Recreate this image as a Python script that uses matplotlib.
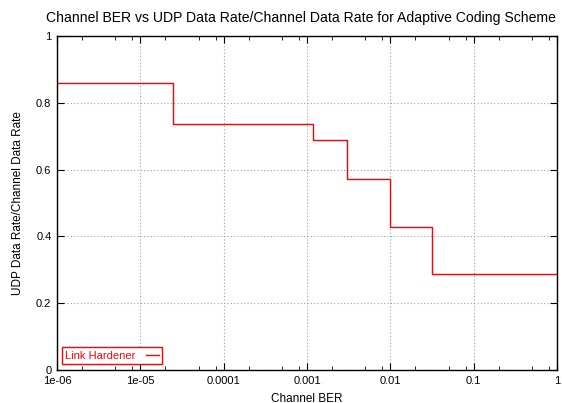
import matplotlib
matplotlib.use("Agg")
import matplotlib.pyplot as plt
from matplotlib.ticker import LogLocator, NullFormatter

plt.rcParams['font.family'] = ['Liberation Sans', 'DejaVu Sans']

ber_edges = [1e-6, 2.47e-5, 1.18e-3, 3.0e-3, 1e-2, 3.16e-2, 1.0]
rate_ratio = [0.86, 0.737, 0.689, 0.572, 0.428, 0.287, 0.287]
series_label = "Link Hardener"
x_ticks = [1e-6, 1e-5, 1e-4, 1e-3, 1e-2, 1e-1, 1]
x_tick_labels = ["1e-06", "1e-05", "0.0001", "0.001", "0.01", "0.1", "1"]
y_ticks = [0, 0.2, 0.4, 0.6, 0.8, 1]
y_tick_labels = ["0", "0.2", "0.4", "0.6", "0.8", "1"]

fig = plt.figure(figsize=(5.62, 4.03), dpi=100)
ax = fig.add_axes([57/562, 33/403, 500/562, 334/403])

ax.step(ber_edges, rate_ratio, where='post', color='#ff0000', lw=1.0, label=series_label)

ax.set_xscale('log')
ax.set_xlim(1e-6, 1)
ax.set_ylim(0, 1)
ax.set_xticks(x_ticks)
ax.set_xticklabels(x_tick_labels)
ax.xaxis.set_minor_locator(LogLocator(base=10, subs=(2, 5, 8), numticks=20))
ax.xaxis.set_minor_formatter(NullFormatter())
ax.set_yticks(y_ticks)
ax.set_yticklabels(y_tick_labels)

ax.tick_params(which='both', direction='in', top=True, right=True, labelsize=8, pad=4)
ax.tick_params(which='major', length=5, width=0.8)
ax.tick_params(which='minor', length=3, width=0.6)
for s in ax.spines.values():
    s.set_linewidth(1.0)

ax.grid(True, which='major', color='#a0a0a0', linestyle=(0, (1, 2)), linewidth=0.8)

fig.text(300.5/562, 1 - 18/403,
         "Channel BER vs UDP Data Rate/Channel Data Rate for Adaptive Coding Scheme",
         fontsize=10.1, ha='center', va='center')
ax.set_xlabel("Channel BER", fontsize=8.5, labelpad=5)
ax.set_ylabel("UDP Data Rate/Channel Data Rate", fontsize=8.5, labelpad=9)

leg = ax.legend(loc='lower left', bbox_to_anchor=(0.01, 0.018), borderaxespad=0,
                fontsize=8, markerfirst=False, handlelength=1.2, handletextpad=0.9,
                borderpad=0.3, fancybox=False, framealpha=1, labelcolor='#ff0000')
leg.get_frame().set_edgecolor('#ff0000')
leg.get_frame().set_linewidth(1.0)

fig.savefig("out.png", dpi=100)
